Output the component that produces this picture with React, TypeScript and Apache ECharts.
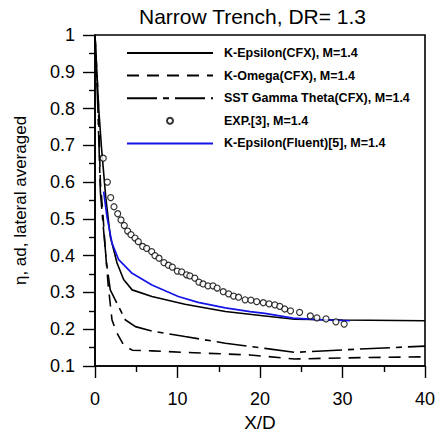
import React, { useEffect, useRef } from "react";
import * as echarts from "echarts";

const titleText = "Narrow Trench, DR= 1.3";
const seriesNames = [
  "K-Epsilon(CFX), M=1.4",
  "K-Omega(CFX), M=1.4",
  "SST Gamma Theta(CFX), M=1.4",
  "EXP.[3], M=1.4",
  "K-Epsilon(Fluent)[5], M=1.4",
];

const kEpsX = [0, 0.45, 0.8, 1.3, 1.85, 2.67, 3.47, 4.5, 6.9, 10.9, 15.8, 20.6, 24.2, 30, 40];
const kEpsY = [1.0, 0.8, 0.69, 0.56, 0.452, 0.38, 0.335, 0.307, 0.289, 0.268, 0.248, 0.236, 0.227, 0.225, 0.223];

const kOmX = [0, 0.4, 0.65, 1.0, 1.25, 1.6, 2.06, 2.67, 3.47, 4.5, 6.9, 12, 18.8, 24.2, 30, 40];
const kOmY = [1.0, 0.82, 0.6, 0.5, 0.416, 0.32, 0.225, 0.189, 0.157, 0.143, 0.141, 0.136, 0.13, 0.119, 0.122, 0.125];

const sstX = [0, 0.35, 0.65, 1.0, 1.4, 1.85, 2.87, 3.7, 4.9, 6.9, 10.9, 15.8, 20.6, 24.2, 32, 40];
const sstY = [1.0, 0.8, 0.574, 0.48, 0.38, 0.307, 0.261, 0.225, 0.207, 0.195, 0.18, 0.162, 0.148, 0.137, 0.146, 0.154];

const expX = [1.0, 1.5, 1.9, 2.3, 2.75, 3.15, 3.55, 3.96, 4.36, 4.85, 5.25, 5.78, 6.26, 6.87, 7.27, 7.76, 8.36, 8.9, 9.37, 9.98, 10.5, 11.1, 11.5, 12.1, 12.6, 13.1, 13.7, 14.3, 14.8, 15.55, 16.2, 16.8, 17.4, 18.2, 18.9, 19.6, 20.4, 21.1, 21.8, 22.4, 23.0, 23.7, 24.8, 26.1, 26.9, 28.0, 29.2, 30.2];
const expY = [0.665, 0.6, 0.558, 0.533, 0.514, 0.497, 0.482, 0.467, 0.457, 0.448, 0.438, 0.425, 0.42, 0.411, 0.4, 0.393, 0.381, 0.374, 0.369, 0.358, 0.356, 0.348, 0.345, 0.339, 0.328, 0.323, 0.318, 0.318, 0.312, 0.302, 0.296, 0.29, 0.287, 0.28, 0.279, 0.275, 0.272, 0.269, 0.266, 0.262, 0.255, 0.25, 0.246, 0.236, 0.231, 0.228, 0.22, 0.214];

const blueX = [1.05, 1.45, 2.06, 2.87, 4.5, 6.9, 10.1, 12.5, 15.8, 18.8, 20.6, 24, 27, 30.9];
const blueY = [0.574, 0.506, 0.434, 0.389, 0.352, 0.32, 0.289, 0.273, 0.258, 0.248, 0.243, 0.23, 0.226, 0.223];

const pairs = (xs: number[], ys: number[]) => xs.map((x, i) => [x, ys[i]]);

const FONT = "'Liberation Sans', Arial, Helvetica, sans-serif";

export default function App() {
  const ref = useRef<HTMLDivElement>(null);
  useEffect(() => {
    if (!ref.current) return;
    const chart = echarts.init(ref.current, null, { renderer: "svg" });
    const axisCommon = {
      axisLine: { show: true, onZero: false, lineStyle: { color: "#000", width: 1.6 } },
      axisTick: { show: true, inside: false, length: 12, lineStyle: { color: "#000", width: 1.4 } },
      minorTick: { show: true, splitNumber: 2, length: 6, lineStyle: { color: "#000", width: 1.4 } },
      splitLine: { show: false },
      minorSplitLine: { show: false },
    };
    chart.setOption({
      animation: false,
      backgroundColor: "#fff",
      title: {
        text: titleText,
        left: 134,
        top: 1,
        textStyle: { fontFamily: FONT, fontSize: 21, fontWeight: "normal", color: "#000" },
      },
      grid: {
        left: 95,
        right: 15,
        top: 35,
        bottom: 68,
        show: true,
        borderColor: "#000",
        borderWidth: 1.6,
        containLabel: false,
        outerBoundsMode: "none",
      },
      legend: {
        orient: "vertical",
        left: 126,
        top: 46,
        padding: 0,
        itemWidth: 86,
        itemHeight: 6,
        itemGap: 8.6,
        data: seriesNames.map((n, i) =>
          i === 3 ? { name: n } : { name: n, itemStyle: { opacity: 0 } }
        ),
        textStyle: {
          fontFamily: FONT,
          fontWeight: "bold",
          fontSize: 12.5,
          lineHeight: 14,
          color: "#000",
          padding: [0, 0, 0, 6],
        },
      },
      xAxis: {
        type: "value",
        min: 0,
        max: 40,
        interval: 10,
        ...axisCommon,
        axisLabel: { fontFamily: FONT, fontSize: 18, color: "#000", margin: 24 },
        name: "X/D",
        nameLocation: "middle",
        nameGap: 47,
        nameTextStyle: { fontFamily: FONT, fontSize: 19, color: "#000" },
      },
      yAxis: {
        type: "value",
        min: 0.1,
        max: 1,
        interval: 0.1,
        ...axisCommon,
        axisLabel: {
          fontFamily: FONT,
          fontSize: 18,
          color: "#000",
          margin: 20,
          formatter: (v: number) => String(+v.toFixed(1)),
        },
        name: "η, ad, lateral averaged",
        nameLocation: "middle",
        nameRotate: 90,
        nameGap: 66,
        nameTextStyle: { fontFamily: FONT, fontSize: 17, color: "#000" },
      },
      series: [
        {
          name: seriesNames[0],
          type: "line",
          data: pairs(kEpsX, kEpsY),
          symbol: "none",
          lineStyle: { color: "#000", width: 1.6, type: "solid" },
          itemStyle: { color: "#000" },
        },
        {
          name: seriesNames[1],
          type: "line",
          data: pairs(kOmX, kOmY),
          symbol: "none",
          lineStyle: { color: "#000", width: 1.6, type: [12, 8] },
          itemStyle: { color: "#000" },
        },
        {
          name: seriesNames[2],
          type: "line",
          data: pairs(sstX, sstY),
          symbol: "none",
          lineStyle: { color: "#000", width: 1.6, type: [30, 6, 6, 6] },
          itemStyle: { color: "#000" },
        },
        {
          name: seriesNames[3],
          type: "scatter",
          data: pairs(expX, expY),
          symbol: "circle",
          symbolSize: 6,
          itemStyle: { color: "#fff", borderColor: "#000", borderWidth: 1.2 },
          z: 5,
        },
        {
          name: seriesNames[4],
          type: "line",
          data: pairs(blueX, blueY),
          symbol: "none",
          lineStyle: { color: "#1414e6", width: 1.7, type: "solid" },
          itemStyle: { color: "#1414e6" },
        },
      ],
    });
    return () => chart.dispose();
  }, []);
  return (
    <div
      ref={ref}
      style={{ position: "fixed", left: 0, top: 0, width: 440, height: 434, background: "#fff" }}
    />
  );
}
